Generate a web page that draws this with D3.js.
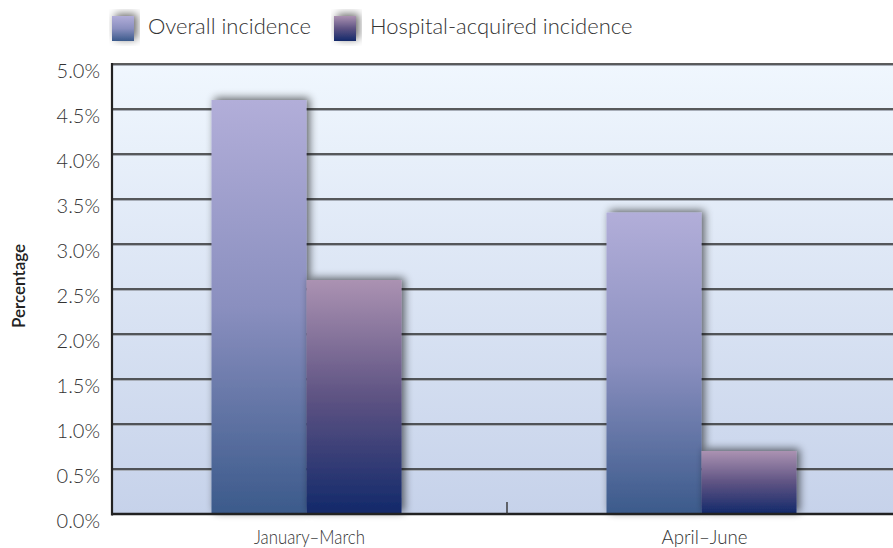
<!DOCTYPE html>
<html>
<head>
<meta charset="utf-8">
<script src="https://cdn.jsdelivr.net/npm/d3@7"></script>
<style>
  body { margin: 0; background: #fff; }
  text { font-family: Lato, "Open Sans", sans-serif; fill: #333; }
</style>
</head>
<body>
<div id="chart"></div>
<script>
// data
var categories = ["January\u2013March", "April\u2013June"];
var seriesNames = ["Overall incidence", "Hospital-acquired incidence"];
var overall = [4.6, 3.35];
var hospital = [2.6, 0.7];
var yTicks = [0, 0.5, 1, 1.5, 2, 2.5, 3, 3.5, 4, 4.5, 5];

var width = 893, height = 548;
var plotLeft = 112, plotTop = 64, plotBottom = 514;

var svg = d3.select("#chart")
    .append("svg")
    .attr("width", width)
    .attr("height", height);

var defs = svg.append("defs");

var bg = defs.append("linearGradient").attr("id", "bg")
    .attr("x1", 0).attr("y1", 0).attr("x2", 0).attr("y2", 1);
bg.append("stop").attr("offset", "0%").attr("stop-color", "#f0f7fe");
bg.append("stop").attr("offset", "100%").attr("stop-color", "#c6d2ea");

var g1 = defs.append("linearGradient").attr("id", "gOverall")
    .attr("x1", 0).attr("y1", 0).attr("x2", 0).attr("y2", 1);
g1.append("stop").attr("offset", "0%").attr("stop-color", "#b2aed9");
g1.append("stop").attr("offset", "50%").attr("stop-color", "#8a8fbf");
g1.append("stop").attr("offset", "100%").attr("stop-color", "#3b5a8b");

var g2 = defs.append("linearGradient").attr("id", "gHospital")
    .attr("x1", 0).attr("y1", 0).attr("x2", 0).attr("y2", 1);
g2.append("stop").attr("offset", "0%").attr("stop-color", "#ab92b2");
g2.append("stop").attr("offset", "50%").attr("stop-color", "#5e5383");
g2.append("stop").attr("offset", "100%").attr("stop-color", "#12296a");

var shadow = defs.append("filter").attr("id", "shadow")
    .attr("x", "-25%").attr("y", "-25%").attr("width", "150%").attr("height", "150%");
shadow.append("feGaussianBlur").attr("in", "SourceAlpha").attr("stdDeviation", 4);
shadow.append("feOffset").attr("dx", 3).attr("dy", -2).attr("result", "off");
shadow.append("feComponentTransfer").attr("result", "blur")
    .append("feFuncA").attr("type", "linear").attr("slope", 0.6);
var merge = shadow.append("feMerge");
merge.append("feMergeNode").attr("in", "blur");
merge.append("feMergeNode").attr("in", "SourceGraphic");

var y = d3.scaleLinear().domain([0, 5]).range([plotBottom, plotTop]);
var x0 = d3.scaleBand().domain(categories).range([109, 899]);
var x1 = d3.scaleBand().domain(seriesNames).range([0, 190]);

// plot background
svg.append("rect")
    .attr("x", plotLeft).attr("y", plotTop)
    .attr("width", width - plotLeft).attr("height", plotBottom - plotTop)
    .attr("fill", "url(#bg)");

// gridlines
var gridVals = yTicks.filter(function(d) { return d > 0; });
var grid = svg.append("g");
grid.selectAll(".gl")
    .data(gridVals)
    .enter().append("line")
    .attr("x1", plotLeft).attr("x2", width)
    .attr("y1", function(d) { return y(d) + 1.5; })
    .attr("y2", function(d) { return y(d) + 1.5; })
    .attr("stroke", "#a8aeb8").attr("stroke-width", 1);
grid.selectAll(".gd")
    .data(gridVals)
    .enter().append("line")
    .attr("x1", plotLeft).attr("x2", width)
    .attr("y1", function(d) { return y(d); })
    .attr("y2", function(d) { return y(d); })
    .attr("stroke", "#262626").attr("stroke-width", 1.6);

// bars
var rows = categories.map(function(c, i) {
    return {cat: c, vals: [overall[i], hospital[i]]};
});

var groups = svg.selectAll(".grp")
    .data(rows)
    .enter().append("g")
    .attr("transform", function(d) {
        return "translate(" + (x0(d.cat) + (x0.bandwidth() - 190) / 2) + ",0)";
    });

groups.selectAll("rect")
    .data(function(d) {
        return d.vals.map(function(v, j) { return {name: seriesNames[j], v: v, j: j}; });
    })
    .enter().append("rect")
    .attr("x", function(d) { return x1(d.name); })
    .attr("width", x1.bandwidth())
    .attr("y", function(d) { return y(d.v); })
    .attr("height", function(d) { return plotBottom - y(d.v); })
    .attr("fill", function(d) { return d.j === 0 ? "url(#gOverall)" : "url(#gHospital)"; })
    .attr("filter", "url(#shadow)");

// axes lines
svg.append("line")
    .attr("x1", plotLeft).attr("x2", plotLeft)
    .attr("y1", plotTop - 1).attr("y2", plotBottom + 1.5)
    .attr("stroke", "#222").attr("stroke-width", 2.2);
svg.append("line")
    .attr("x1", plotLeft).attr("x2", width)
    .attr("y1", plotBottom).attr("y2", plotBottom)
    .attr("stroke", "#222").attr("stroke-width", 2.6);

// category divider tick
svg.append("line")
    .attr("x1", x0(categories[1]) + 3).attr("x2", x0(categories[1]) + 3)
    .attr("y1", plotBottom - 12).attr("y2", plotBottom)
    .attr("stroke", "#333").attr("stroke-width", 1.4);

// y tick labels: top of the text sits on its gridline
svg.selectAll(".ytl")
    .data(yTicks)
    .enter().append("text")
    .attr("x", 100)
    .attr("y", function(d) { return y(d) + 14; })
    .attr("text-anchor", "end")
    .attr("font-size", 20)
    .attr("font-weight", 300)
    .text(function(d) { return d.toFixed(1) + "%"; });

// x labels (condensed face in the picture)
svg.selectAll(".xtl")
    .data(categories)
    .enter().append("text")
    .attr("x", function(d) { return x0(d) + x0.bandwidth() / 2 + 3; })
    .attr("y", 544)
    .attr("text-anchor", "middle")
    .attr("font-size", 19)
    .attr("font-weight", 300)
    .attr("lengthAdjust", "spacingAndGlyphs")
    .attr("textLength", function(d, i) { return i === 0 ? 111 : 86; })
    .text(function(d) { return d; });

// y axis title
svg.append("text")
    .attr("transform", "translate(25,286) rotate(-90)")
    .attr("text-anchor", "middle")
    .attr("font-size", 17)
    .attr("font-weight", 600)
    .style("fill", "#222")
    .text("Percentage");

// legend
var legX = [112, 334];
var legend = svg.selectAll(".leg")
    .data(seriesNames)
    .enter().append("g")
    .attr("transform", function(d, i) { return "translate(" + legX[i] + ",0)"; });
legend.append("rect")
    .attr("x", 0).attr("y", 16)
    .attr("width", 22).attr("height", 25)
    .attr("fill", function(d, i) { return i === 0 ? "url(#gOverall)" : "url(#gHospital)"; })
    .attr("filter", "url(#shadow)");
legend.append("text")
    .attr("x", 36).attr("y", 34)
    .attr("font-size", 22)
    .attr("font-weight", 300)
    .text(function(d) { return d; });
</script>
</body>
</html>
